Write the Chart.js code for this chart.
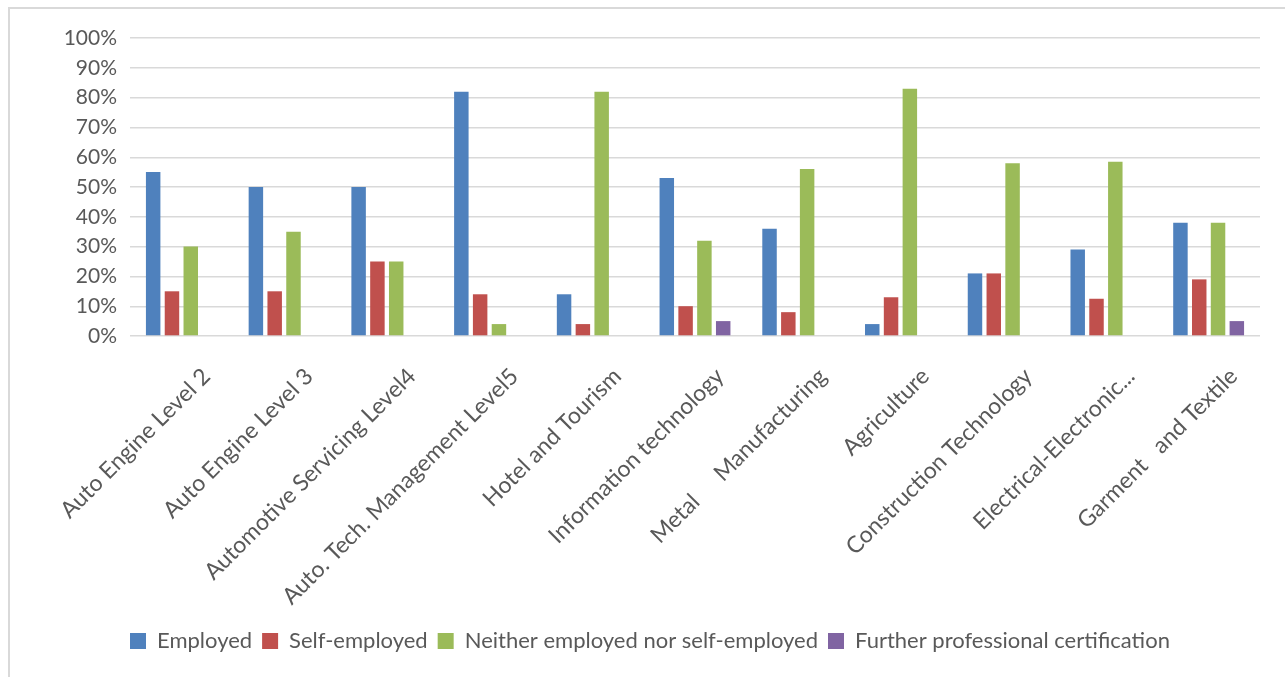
<!DOCTYPE html>
<html lang="en">

<head>
    <meta charset="UTF-8">
    <title>Employment status by program</title>
    <script src="https://cdn.jsdelivr.net/npm/chart.js"></script>
    <style>
        body {
            margin: 0;
            padding: 0;
            background-color: white;
        }

        #frame {
            position: absolute;
            left: 8px;
            top: 7px;
            width: 1277px;
            height: 670px;
            border-top: 2px solid #d9d9d9;
            border-left: 2px solid #d9d9d9;
        }

        #chart-container {
            position: absolute;
            left: 0;
            top: 0;
            width: 1285px;
            height: 677px;
        }
    </style>
</head>

<body>
    <div id="frame"></div>
    <div id="chart-container">
        <canvas id="chart"></canvas>
    </div>

    <script>
        const programs = [
            "Auto Engine Level 2",
            "Auto Engine Level 3",
            "Automotive Servicing Level4",
            "Auto. Tech. Management Level5",
            "Hotel and Tourism",
            ["Information technology", "", "", "Metal                  "],
            "Manufacturing",
            "Agriculture",
            "Construction Technology",
            "Electrical-Electronic...",
            "Garment   and Textile"
        ];
        const employed = [55, 50, 50, 82, 14, 53, 36, 4, 21, 29, 38];
        const selfEmployed = [15, 15, 25, 14, 4, 10, 8, 13, 21, 12.5, 19];
        const neither = [30, 35, 25, 4, 82, 32, 56, 83, 58, 58.5, 38];
        const certification = [0, 0, 0, 0, 0, 5, 0, 0, 0, 0, 5];
        const percentTicks = [0, 10, 20, 30, 40, 50, 60, 70, 80, 90, 100];

        const textColor = "#595959";
        const fontFamily = "Lato, 'Open Sans', sans-serif";

        function series(label, data, color) {
            return {
                label: label,
                data: data,
                backgroundColor: color,
                borderWidth: 0,
                barPercentage: 0.77,
                categoryPercentage: 0.732,
            };
        }

        // legend sits under the plot, starting near its left edge
        const legendShift = {
            id: "legendShift",
            afterLayout(chart) {
                const lg = chart.legend;
                const w = lg.right - lg.left;
                lg.left = 120;
                lg.right = 120 + w;
            },
        };

        const ctx = document.getElementById("chart").getContext("2d");
        new Chart(ctx, {
            type: "bar",
            data: {
                labels: programs,
                datasets: [
                    series("Employed", employed, "#4f81bd"),
                    series("Self-employed", selfEmployed, "#c0504d"),
                    series("Neither employed nor self-employed", neither, "#9bbb59"),
                    series("Further professional certification", certification, "#8064a2"),
                ],
            },
            plugins: [legendShift],
            options: {
                responsive: true,
                maintainAspectRatio: false,
                animation: false,
                layout: {
                    padding: { left: 10, right: 25, top: 38, bottom: 15 },
                },
                plugins: {
                    tooltip: { enabled: false },
                    legend: {
                        position: "bottom",
                        align: "start",
                        labels: {
                            color: textColor,
                            font: { family: fontFamily, size: 22 },
                            boxWidth: 16,
                            boxHeight: 16,
                            padding: 10,
                        },
                    },
                },
                scales: {
                    x: {
                        grid: { display: false },
                        border: { display: false },
                        afterFit: (scale) => { scale.height = 284; },
                        ticks: {
                            color: textColor,
                            font: { family: fontFamily, size: 23, lineHeight: 1.04 },
                            autoSkip: false,
                            minRotation: 45,
                            maxRotation: 45,
                            padding: 20,
                            labelOffset: 25,
                        },
                    },
                    y: {
                        min: 0,
                        max: 100,
                        afterFit: (scale) => { scale.width = 120; },
                        afterBuildTicks: (scale) => {
                            scale.ticks = percentTicks.map(v => ({ value: v }));
                        },
                        border: { display: false },
                        grid: {
                            color: "#d9d9d9",
                            lineWidth: 1.4,
                            drawTicks: false,
                        },
                        ticks: {
                            color: textColor,
                            font: { family: fontFamily, size: 21 },
                            padding: 13,
                            callback: (value) => value + "%",
                        },
                    },
                },
            },
        });
    </script>
</body>

</html>
